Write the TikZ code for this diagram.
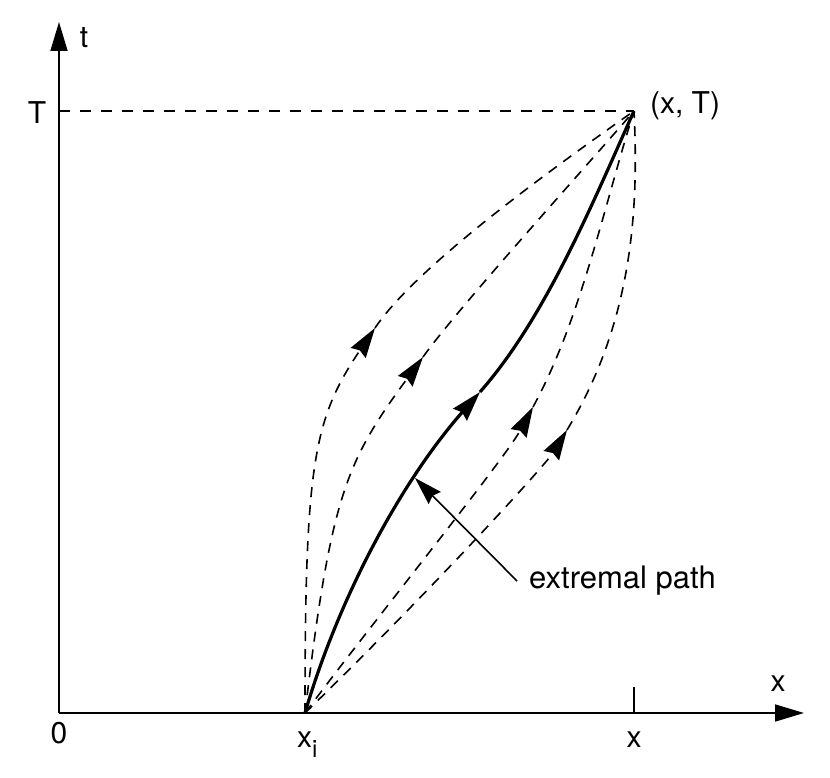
\documentclass[tikz,border=0pt]{standalone}
\usepackage{fontspec}
\setmainfont{TeX Gyre Heros}
\usetikzlibrary{arrows.meta}
\begin{document}
\begin{tikzpicture}[x=1pt,y=-1pt,
  lbl/.style={font=\fontsize{30}{36}\selectfont, inner sep=0pt},
  axisline/.style={line width=1.7pt},
  dpath/.style={line width=1.6pt, dash pattern=on 10pt off 8pt},
  spath/.style={line width=3.2pt},
  midtip/.style={-{Stealth[length=30pt,width=18pt,inset=3pt]}},
  axtip/.style={-{Triangle[length=29pt,width=17pt]}}
]
\useasboundingbox (0,0) rectangle (830,778);
% coordinates
\coordinate (O) at (59,713);
\coordinate (Ytip) at (59,22);
\coordinate (Xtip) at (804,713);
\coordinate (Tl) at (59,111);
\coordinate (A) at (305,713);
\coordinate (B) at (634,111);
\coordinate (Xt) at (634,713);
\coordinate (Xtt) at (634,687);
\coordinate (M1) at (375,328);
\coordinate (M2) at (423,357);
\coordinate (M3) at (480,392);
\coordinate (M4) at (533,407);
\coordinate (M5) at (567,430);
\coordinate (E) at (415,478);
% axes
\draw[axisline, axtip] (O) -- (Ytip);
\draw[axisline, axtip] (O) -- (Xtip);
\draw[axisline] (Xt) -- (Xtt);
\draw[line width=1.6pt, dash pattern=on 11pt off 10pt] (Tl) -- (B);
% leftmost dashed path
\draw[dpath, midtip] (A) .. controls (305,463) and (313.4,419.3) .. (M1);
\draw[dpath] (M1) .. controls (414,270) and (535.8,180) .. (B);
% second dashed path
\draw[dpath, midtip] (A) .. controls (331,495) and (346,462) .. (M2);
\draw[dpath] (M2) .. controls (458,308) and (588.5,164) .. (B);
% extremal (solid) path
\draw[spath, midtip] (A) .. controls (338.6,597.8) and (400.8,482) .. (M3);
\draw[spath] (M3) .. controls (546,317) and (593,202) .. (B);
% right dashed path 1
\draw[dpath, midtip] (A) .. controls (377,617) and (504.2,459.8) .. (M4);
\draw[dpath] (M4) .. controls (581,319) and (604,206) .. (B);
% rightmost dashed path
\draw[dpath, midtip] (A) .. controls (434.6,587) and (546.2,464) .. (M5);
\draw[dpath] (M5) .. controls (632,323) and (639,211) .. (B);
% labels
\node[lbl] (tl) at (84,38) {t};
\node[lbl] (Tlab) at (37,112.5) {T};
\node[lbl] (xT) at (685,106) {(x, T)};
\node[lbl] (xl) at (778,683.5) {x};
\node[lbl, anchor=base] (zero) at (59,743) {0};
\node[lbl, anchor=base west] (xi) at (297,747) {x\raisebox{-10pt}{\fontsize{24}{24}\selectfont i}};
\node[lbl, anchor=base] (xb) at (634,747) {x};
% annotation
\node[lbl, font=\fontsize{31}{36}\selectfont, anchor=west, inner xsep=12pt] (ext) at (517,581) {extremal path};
\draw[line width=1.6pt, -{Stealth[length=28pt,width=17pt,inset=3pt]}] (ext.west) -- (E);
\end{tikzpicture}
\end{document}
